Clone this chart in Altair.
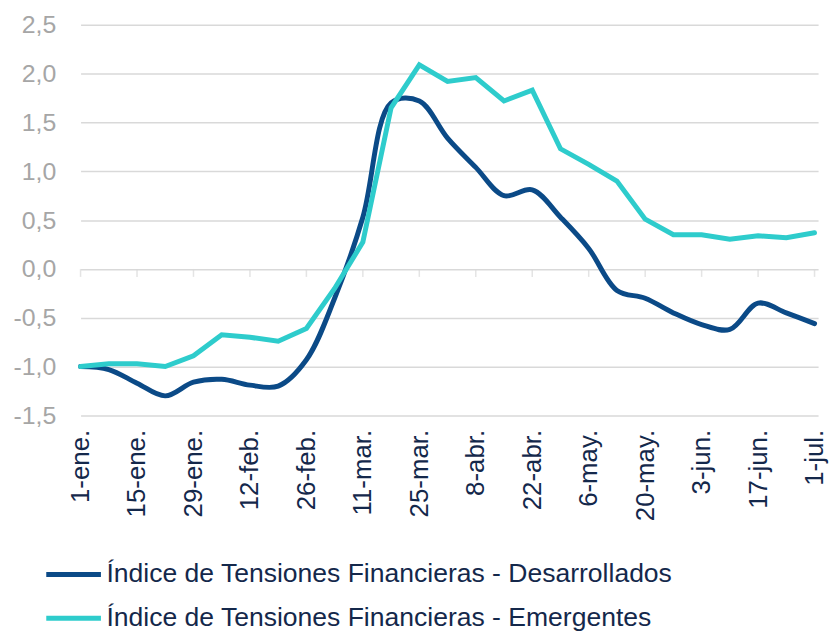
import altair as alt
import pandas as pd

# --- data -------------------------------------------------------------
dates = [
    "2020-01-01", "2020-01-08", "2020-01-15", "2020-01-22", "2020-01-29",
    "2020-02-05", "2020-02-12", "2020-02-19", "2020-02-26", "2020-03-04",
    "2020-03-11", "2020-03-18", "2020-03-25", "2020-04-01", "2020-04-08",
    "2020-04-15", "2020-04-22", "2020-04-29", "2020-05-06", "2020-05-13",
    "2020-05-20", "2020-05-27", "2020-06-03", "2020-06-10", "2020-06-17",
    "2020-06-24", "2020-07-01",
]
desarrollados = [
    -1.00, -1.03, -1.17, -1.30, -1.16, -1.13, -1.19, -1.20, -0.93, -0.30,
    0.53, 1.70, 1.72, 1.34, 1.04, 0.75, 0.81, 0.53, 0.21, -0.22,
    -0.30, -0.45, -0.57, -0.62, -0.35, -0.45, -0.56,
]
emergentes = [
    -1.00, -0.97, -0.97, -1.00, -0.89, -0.675, -0.70, -0.74, -0.61, -0.20,
    0.275, 1.65, 2.09, 1.92, 1.96, 1.72, 1.83, 1.23, 1.07, 0.90,
    0.51, 0.35, 0.35, 0.305, 0.34, 0.32, 0.37,
]
tick_dates = dates[::2]
month_names = ["ene.", "feb.", "mar.", "abr.", "may.", "jun.", "jul.",
               "ago.", "sep.", "oct.", "nov.", "dic."]
y_ticks = [-1.5, -1.0, -0.5, 0.0, 0.5, 1.0, 1.5, 2.0, 2.5]
series_names = [
    "Índice de Tensiones Financieras - Desarrollados",
    "Índice de Tensiones Financieras - Emergentes",
]
colors = ["#0b4a87", "#2ecccc"]

# --- tables -----------------------------------------------------------
rows = []
for d, v in zip(dates, desarrollados):
    rows.append({"fecha": d, "valor": v, "serie": series_names[0]})
for d, v in zip(dates, emergentes):
    rows.append({"fecha": d, "valor": v, "serie": series_names[1]})
df = pd.DataFrame(rows)
ticks_df = pd.DataFrame({"fecha": tick_dates, "valor": [0.0] * len(tick_dates)})


def dt(s, hours=0):
    y, m, d = (int(p) for p in s.split("-"))
    return alt.DateTime(year=y, month=m, date=d, hours=hours, utc=True)


month_js = "[" + ",".join("'" + m + "'" for m in month_names) + "]"
x_label_expr = "utcdate(datum.value) + '-' + " + month_js + "[utcmonth(datum.value)]"
y_label_expr = "replace(replace(format(datum.value, '.1f'), '.', ','), '−', '-')"

grid_color = "#d9d9d9"

x_enc = alt.X(
    "fecha:T",
    scale=alt.Scale(type="utc", domain=[dt(dates[0]), dt(dates[-1], 21)]),
    axis=alt.Axis(
        values=[dt(s) for s in tick_dates],
        labelExpr=x_label_expr,
        labelAngle=270,
        labelFontSize=26,
        labelColor="#14284b",
        labelPadding=14,
        grid=False,
        domain=False,
        ticks=False,
        title=None,
        labelOverlap=False,
    ),
)
y_enc = alt.Y(
    "valor:Q",
    scale=alt.Scale(domain=[-1.5, 2.5], nice=False, zero=False),
    axis=alt.Axis(
        values=y_ticks,
        labelExpr=y_label_expr,
        labelFontSize=25,
        labelColor="#a6a6a6",
        labelPadding=25,
        grid=True,
        gridColor=grid_color,
        gridWidth=1.5,
        domain=False,
        ticks=False,
        title=None,
    ),
)
color_enc = alt.Color(
    "serie:N",
    scale=alt.Scale(domain=series_names, range=colors),
    legend=alt.Legend(
        title=None,
        orient="none",
        legendX=-37,
        legendY=523,
        direction="vertical",
        symbolType="stroke",
        symbolStrokeWidth=5,
        symbolSize=3025,
        labelFontSize=26.7,
        labelColor="#14284b",
        labelLimit=800,
        labelOffset=3,
        rowPadding=-10,
        padding=0,
    ),
)

axis_ticks = alt.Chart(ticks_df).mark_tick(
    orient="vertical", size=8, thickness=1.5, color=grid_color, yOffset=4
).encode(x=x_enc, y=y_enc)

line_des = alt.Chart(df).transform_filter(
    alt.datum.serie == series_names[0]
).mark_line(
    interpolate="catmull-rom", strokeWidth=5, strokeCap="round"
).encode(x=x_enc, y=y_enc, color=color_enc)

line_em = alt.Chart(df).transform_filter(
    alt.datum.serie == series_names[1]
).mark_line(
    interpolate="linear", strokeWidth=5, strokeCap="round"
).encode(x=x_enc, y=y_enc, color=color_enc)

chart = alt.layer(axis_ticks, line_des, line_em).properties(
    width=742,
    height=393,
    autosize=alt.AutoSizeParams(type="none"),
    padding={"left": 73, "top": 15, "right": 12, "bottom": 216},
).configure(
    font="Liberation Sans",
).configure_view(
    stroke=None,
)

chart.save("out.html", embed_options={"renderer": "svg", "actions": False})
